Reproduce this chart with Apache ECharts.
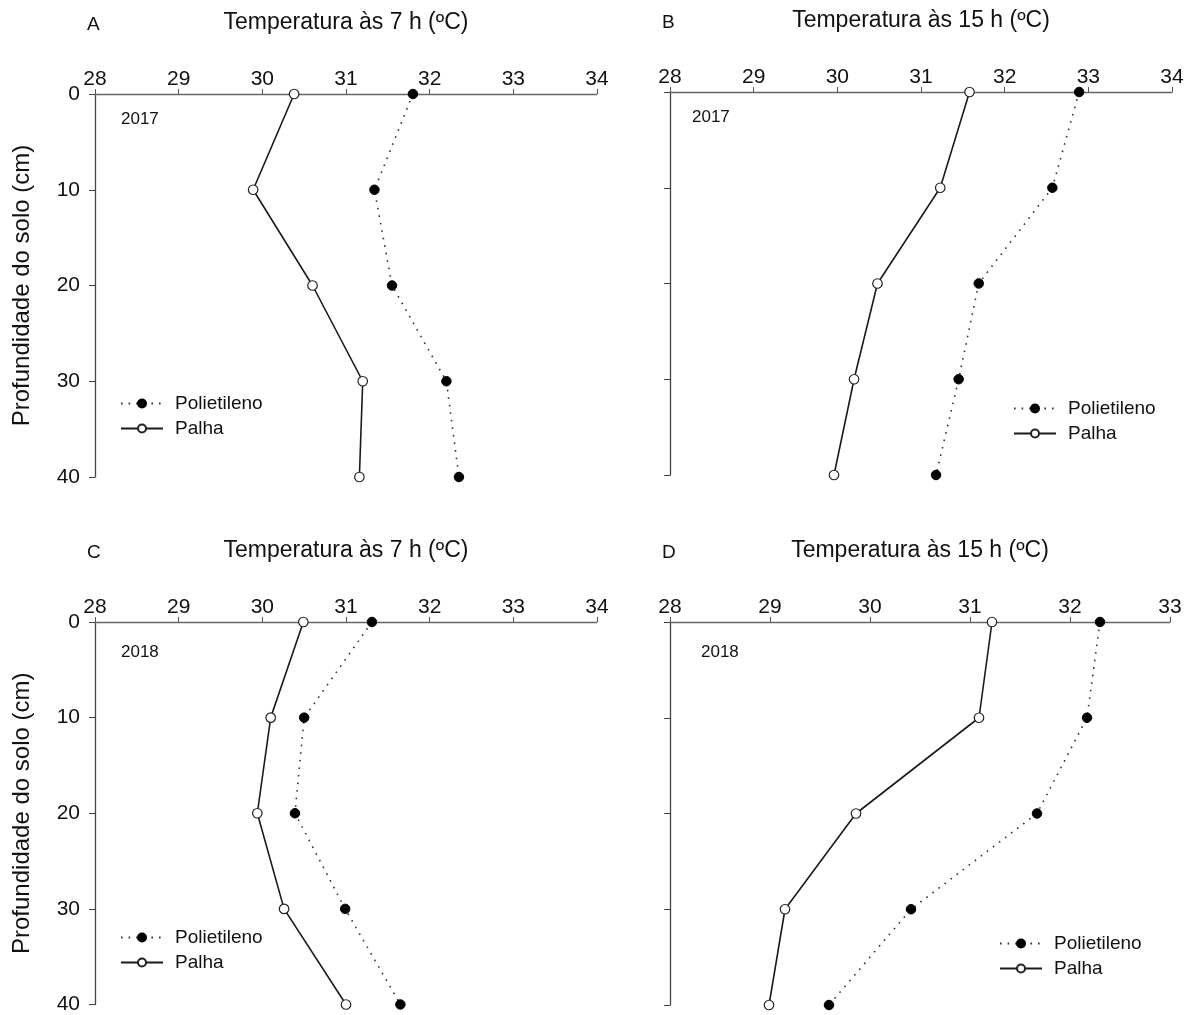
<!DOCTYPE html>
<html>
<head>
<meta charset="utf-8">
<script src="https://cdn.jsdelivr.net/npm/echarts@6/dist/echarts.min.js"></script>
<style>
  html, body { margin: 0; padding: 0; background: #fff; }
  #chart { width: 1192px; height: 1015px; }
</style>
</head>
<body>
<div id="chart"></div>
<script>
// profundidade do solo (cm)
var depths = [0, 10, 20, 30, 40];
var depthTicks = [0, 10, 20, 30, 40];
var tempTicksWide = [28, 29, 30, 31, 32, 33, 34];
var tempTicksD = [28, 29, 30, 31, 32, 33];

// A - 2017, 7 h
var polietilenoA = [31.80, 31.34, 31.55, 32.20, 32.35];
var palhaA = [30.38, 29.89, 30.60, 31.20, 31.16];
// B - 2017, 15 h
var polietilenoB = [32.89, 32.57, 31.69, 31.45, 31.18];
var palhaB = [31.58, 31.23, 30.48, 30.20, 29.96];
// C - 2018, 7 h
var polietilenoC = [31.31, 30.50, 30.39, 30.99, 31.65];
var palhaC = [30.49, 30.10, 29.94, 30.26, 31.00];
// D - 2018, 15 h
var polietilenoD = [32.30, 32.17, 31.67, 30.41, 29.59];
var palhaD = [31.22, 31.09, 29.86, 29.15, 28.99];

var FONT = "Liberation Sans, Arial, sans-serif";

// layout of the four panels
var panels = [
  { letter: "A", year: "2017", title: "Temperatura às 7 h (ºC)", ticks: tempTicksWide, pol: polietilenoA, pal: palhaA,
    grid: { left: 95, top: 94, width: 502, height: 383 }, legend: { left: 115, top: 389 },
    yearPos: { x: 26, y: 26 }, yLabels: true },
  { letter: "B", year: "2017", title: "Temperatura às 15 h (ºC)", ticks: tempTicksWide, pol: polietilenoB, pal: palhaB,
    grid: { left: 670, top: 92, width: 502, height: 383 }, legend: { left: 1008, top: 394 },
    yearPos: { x: 22, y: 26 }, yLabels: false },
  { letter: "C", year: "2018", title: "Temperatura às 7 h (ºC)", ticks: tempTicksWide, pol: polietilenoC, pal: palhaC,
    grid: { left: 95, top: 622, width: 502, height: 383 }, legend: { left: 115, top: 923 },
    yearPos: { x: 26, y: 31 }, yLabels: true },
  { letter: "D", year: "2018", title: "Temperatura às 15 h (ºC)", ticks: tempTicksD, pol: polietilenoD, pal: palhaD,
    grid: { left: 670, top: 622, width: 500, height: 383 }, legend: { left: 994, top: 929 },
    yearPos: { x: 31, y: 31 }, yLabels: false }
];

function pairs(temps) {
  return temps.map(function (t, i) { return [t, depths[i]]; });
}

var option = {
  backgroundColor: "#fff",
  animation: false,
  textStyle: { fontFamily: FONT },
  grid: [],
  xAxis: [],
  yAxis: [],
  series: [],
  legend: [],
  graphic: []
};

panels.forEach(function (p, k) {
  option.grid.push(p.grid);

  option.xAxis.push({
    gridIndex: k,
    type: "value",
    position: "top",
    min: p.ticks[0],
    max: p.ticks[p.ticks.length - 1],
    interval: 1,
    name: p.title,
    nameLocation: "middle",
    nameGap: 60,
    nameTextStyle: { fontSize: 23, color: "#111", fontFamily: FONT },
    axisLine: { show: true, lineStyle: { color: "#666", width: 1.3 } },
    axisTick: { show: true, inside: false, length: 5, lineStyle: { color: "#555" } },
    axisLabel: { fontSize: 21, color: "#111", margin: 4, fontFamily: FONT },
    splitLine: { show: false }
  });

  option.yAxis.push({
    gridIndex: k,
    type: "value",
    inverse: true,
    min: depthTicks[0],
    max: depthTicks[depthTicks.length - 1],
    interval: 10,
    name: p.yLabels ? "Profundidade do solo (cm)" : "",
    nameLocation: "middle",
    nameGap: 61,
    nameRotate: 90,
    nameTextStyle: { fontSize: 24, color: "#111", fontFamily: FONT },
    axisLine: { show: true, lineStyle: { color: "#444", width: 1.3 } },
    axisTick: { show: true, inside: false, length: 6, lineStyle: { color: "#444" } },
    axisLabel: { show: p.yLabels, fontSize: 21, color: "#111", margin: 15, fontFamily: FONT },
    splitLine: { show: false }
  });

  option.series.push({
    name: "Polietileno",
    type: "line",
    xAxisIndex: k,
    yAxisIndex: k,
    data: pairs(p.pol),
    clip: false,
    symbol: "circle",
    symbolSize: 9.5,
    lineStyle: { color: "#333", width: 1.6, type: [1.6, 6] },
    itemStyle: { color: "#000", borderColor: "#000", borderWidth: 1 },
    z: 3
  });
  option.series.push({
    name: "Palha",
    type: "line",
    xAxisIndex: k,
    yAxisIndex: k,
    data: pairs(p.pal),
    clip: false,
    symbol: "circle",
    symbolSize: 9.5,
    lineStyle: { color: "#1a1a1a", width: 1.6, type: "solid" },
    itemStyle: { color: "#fff", borderColor: "#222", borderWidth: 1.2 },
    z: 4
  });

  option.legend.push({
    left: p.legend.left,
    top: p.legend.top,
    orient: "vertical",
    data: ["Polietileno", "Palha"],
    itemWidth: 42,
    itemHeight: 10,
    itemGap: 6,
    selectedMode: false,
    textStyle: { fontSize: 19, color: "#111", fontFamily: FONT, padding: [0, 0, 0, 7] }
  });

  option.graphic.push({
    type: "text",
    left: p.grid.left - 8,
    top: p.grid.top - 79,
    style: { text: p.letter, font: "19px " + FONT, fill: "#111" }
  });
  option.graphic.push({
    type: "text",
    left: p.grid.left + p.yearPos.x,
    top: p.grid.top + p.yearPos.y - 9,
    style: { text: p.year, font: "17px " + FONT, fill: "#111" }
  });
});

var chart = echarts.init(document.getElementById("chart"), null, { renderer: "canvas" });
chart.setOption(option);
</script>
</body>
</html>
